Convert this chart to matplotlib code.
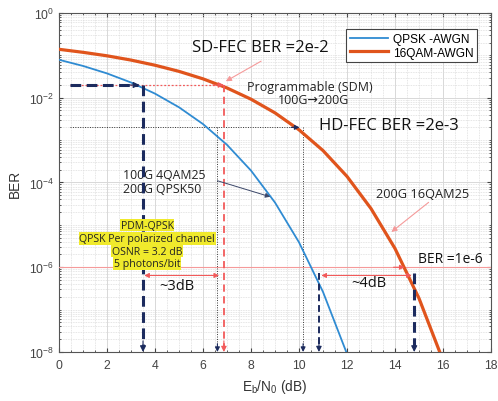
"""BER vs Eb/N0 for QPSK and 16QAM over AWGN, with FEC threshold annotations."""
import numpy as np
import matplotlib
matplotlib.use("Agg")
import matplotlib.pyplot as plt
from matplotlib.ticker import LogLocator, MultipleLocator, NullFormatter

# Eb/N0 points in dB and BER values
ebn0_qpsk = [0, 1, 2, 3, 4, 5, 6, 7, 8, 9, 10, 11, 12]
ber_qpsk = [7.87e-2, 5.63e-2, 3.75e-2, 2.29e-2, 1.25e-2, 5.95e-3, 2.39e-3,
            7.73e-4, 1.91e-4, 3.36e-5, 3.87e-6, 2.61e-7, 9.0e-9]
ebn0_16qam = [0, 1, 2, 3, 4, 5, 6, 7, 8, 9, 10, 11, 12, 13, 14, 15, 16]
ber_16qam = [0.139, 0.118, 0.0976, 0.0774, 0.0585, 0.0419, 0.0279, 0.0170,
             9.24e-3, 4.39e-3, 1.75e-3, 5.66e-4, 1.39e-4, 2.42e-5, 2.76e-6,
             1.84e-7, 6.3e-9]
series_labels = ["QPSK -AWGN", "16QAM-AWGN"]

sd_fec, hd_fec, ber_target = 2e-2, 2e-3, 1e-6
x_qpsk_sd, x_16qam_sd = 3.5, 6.87     # Eb/N0 at SD-FEC threshold
x_qpsk_hd, x_16qam_hd = 6.6, 10.17    # Eb/N0 at HD-FEC threshold
x_qpsk_1e6, x_16qam_1e6 = 10.83, 14.8  # Eb/N0 at BER 1e-6

BLUE, ORANGE, NAVY = "#2f8bd2", "#e0541c", "#1c2b5e"
RED, PINK = "#f25a5a", "#f59a9a"
ANN_FONT = ["Open Sans", "DejaVu Sans"]

plt.rcParams["font.family"] = ["Liberation Sans", "DejaVu Sans"]
plt.rcParams["mathtext.fontset"] = "custom"
plt.rcParams["mathtext.rm"] = "Liberation Sans"
plt.rcParams["mathtext.it"] = "Liberation Sans:italic"

fig = plt.figure(figsize=(4.98, 4.02), dpi=100)
ax = fig.add_axes([0.1185, 0.1219, 0.8675, 0.8433])

ax.plot(ebn0_qpsk, ber_qpsk, color=BLUE, lw=1.3, label=series_labels[0], zorder=4)
ax.plot(ebn0_16qam, ber_16qam, color=ORANGE, lw=2.3, label=series_labels[1], zorder=4)

ax.set_yscale("log")
ax.set_xlim(0, 18)
ax.set_ylim(1e-8, 1)
ax.xaxis.set_major_locator(MultipleLocator(2))
ax.xaxis.set_minor_locator(MultipleLocator(0.5))
ax.yaxis.set_major_locator(LogLocator(base=100))
ax.yaxis.set_minor_locator(LogLocator(base=10, subs=np.arange(1, 10), numticks=20))
ax.yaxis.set_minor_formatter(NullFormatter())
ax.grid(which="major", color="#d8d8d8", lw=0.7)
ax.grid(which="minor", color="#dddddd", lw=0.6, ls=(0, (1, 1)))
ax.set_axisbelow(True)
ax.tick_params(which="both", direction="in", top=True, right=True, colors="#444444",
               labelsize=8.8, length=3)
ax.tick_params(axis="x", pad=5)
ax.tick_params(which="minor", length=1.5)
for s in ax.spines.values():
    s.set_color("#555555")
    s.set_linewidth(0.8)

ax.set_xlabel(r"E$_\mathrm{b}$/N$_\mathrm{0}$ (dB)", fontsize=9.8, color="#333333")
ax.set_ylabel("BER", fontsize=9.8, color="#333333")
ax.xaxis.set_label_coords(0.5, -0.075)
ax.yaxis.set_label_coords(-0.085, 0.5)


def head(x, y, color, dx=0, dy=0, size=9):
    """Draw a filled arrowhead ending at (x, y); (dx, dy) points back along the shaft."""
    ax.annotate("", xy=(x, y), xytext=(dx, dy), textcoords="offset points",
                arrowprops=dict(arrowstyle="-|>", color=color, lw=0.8, mutation_scale=size,
                                shrinkA=0, shrinkB=0), zorder=6)


def arrow(x0, y0, x1, y1, color, lw=0.8, size=8):
    ax.annotate("", xy=(x1, y1), xytext=(x0, y0),
                arrowprops=dict(arrowstyle="-|>", color=color, lw=lw, mutation_scale=size,
                                shrinkA=0, shrinkB=0), zorder=6)


# SD-FEC threshold
ax.plot([0.45, x_16qam_sd], [sd_fec, sd_fec], color=RED, lw=0.9, ls=(0, (1.5, 1.5)), zorder=3)
head(x_16qam_sd, sd_fec, RED, dx=-8, size=8)
ax.plot([0.45, x_qpsk_sd - 0.2], [sd_fec, sd_fec], color=NAVY, lw=2.2, ls=(0, (3.5, 1.8)), zorder=5)
head(x_qpsk_sd - 0.15, sd_fec, NAVY, dx=-8, size=9)
ax.plot([x_qpsk_sd, x_qpsk_sd], [sd_fec, 1.3e-8], color=NAVY, lw=2.2, ls=(0, (3.5, 1.8)), zorder=5)
head(x_qpsk_sd, 1e-8, NAVY, dy=8, size=9)
ax.plot([x_16qam_sd, x_16qam_sd], [sd_fec, 1.3e-8], color=RED, lw=1.3, ls=(0, (4, 2.5)), zorder=5)
head(x_16qam_sd, 1e-8, RED, dy=8, size=8)
ax.text(5.55, 0.16, "SD-FEC BER =2e-2", fontsize=12, family=ANN_FONT, va="center", color="#111111")
arrow(8.42, 0.073, 6.95, 0.0245, PINK, lw=0.8)
ax.text(7.85, 0.0185, "Programmable (SDM)", fontsize=9, family=ANN_FONT, va="center", color="#222222")
ax.text(10.6, 9.3e-3, "100G\u2192200G", fontsize=9, family=ANN_FONT, va="center", ha="center",
        color="#222222")

# HD-FEC threshold
ax.plot([0.45, x_16qam_hd - 0.2], [hd_fec, hd_fec], color="#333333", lw=0.7, ls=(0, (1, 1.5)), zorder=3)
head(x_16qam_hd - 0.15, hd_fec, NAVY, dx=-6, size=7)
for xv in (x_qpsk_hd, x_16qam_hd):
    ax.plot([xv, xv], [hd_fec, 1.3e-8], color="#333333", lw=0.7, ls=(0, (1, 1.5)), zorder=3)
    head(xv, 1e-8, NAVY, dy=6, size=7)
ax.text(10.85, 2.25e-3, "HD-FEC BER =2e-3", fontsize=12, family=ANN_FONT, va="center", color="#111111")

ax.text(2.67, 1.05e-4, "100G 4QAM25\n200G QPSK50", fontsize=8.8, family=ANN_FONT, va="center",
        linespacing=1.15, color="#222222")
arrow(6.6, 1.1e-4, 8.8, 4.6e-5, "#3a4668", lw=0.7, size=7)
ax.text(13.2, 5.6e-5, "200G 16QAM25", fontsize=9.2, family=ANN_FONT, va="center", color="#222222")
arrow(15.4, 3.4e-5, 13.85, 6.8e-6, PINK, lw=0.8)

# PDM-QPSK note
note_lines = ["PDM-QPSK", "QPSK Per polarized channel", "OSNR = 3.2 dB", "5 photons/bit"]
note_y = [9.8e-6, 4.8e-6, 2.4e-6, 1.24e-6]
for line, yv in zip(note_lines, note_y):
    ax.text(3.67, yv, line, fontsize=7.6, family=ANN_FONT, ha="center", va="center", color="#222222",
            bbox=dict(facecolor="#f0ea2c", edgecolor="none", pad=0.5), zorder=7)

# BER = 1e-6 target
ax.axhline(ber_target, color=PINK, lw=0.8, zorder=3)
head(14.4, ber_target, RED, dx=-8, size=7)
ax.text(14.95, 1.65e-6, "BER =1e-6", fontsize=10, family=ANN_FONT, va="center", color="#111111")
ax.annotate("", xy=(x_qpsk_sd + 0.05, 6.4e-7), xytext=(x_16qam_sd - 0.2, 6.4e-7),
            arrowprops=dict(arrowstyle="<|-|>", color=RED, lw=0.8, mutation_scale=7,
                            shrinkA=0, shrinkB=0), zorder=6)
ax.text(4.9, 3.7e-7, "~3dB", fontsize=10.5, family=ANN_FONT, ha="center", va="center", color="#111111")
ax.annotate("", xy=(x_qpsk_1e6 + 0.1, 6.4e-7), xytext=(x_16qam_1e6 - 0.1, 6.4e-7),
            arrowprops=dict(arrowstyle="<|-|>", color=RED, lw=0.8, mutation_scale=7,
                            shrinkA=0, shrinkB=0), zorder=6)
ax.text(12.9, 4.4e-7, "~4dB", fontsize=10.5, family=ANN_FONT, ha="center", va="center", color="#111111")
ax.plot([x_qpsk_1e6, x_qpsk_1e6], [7.5e-7, 1.3e-8], color=NAVY, lw=1.4, ls=(0, (3.5, 2)), zorder=5)
head(x_qpsk_1e6, 1e-8, NAVY, dy=8, size=8)
ax.plot([x_16qam_1e6, x_16qam_1e6], [7.5e-7, 1.3e-8], color=NAVY, lw=2.2, ls=(0, (3.5, 1.8)), zorder=5)
head(x_16qam_1e6, 1e-8, NAVY, dy=8, size=9)

leg = ax.legend(loc="upper right", bbox_to_anchor=(0.981, 0.97), fontsize=8.6, handlelength=3.2,
                fancybox=False, framealpha=1, edgecolor="#444444", borderpad=0.3,
                labelspacing=0.15, handletextpad=0.4)
leg.get_frame().set_linewidth(0.8)

fig.savefig("out.png", dpi=100)
